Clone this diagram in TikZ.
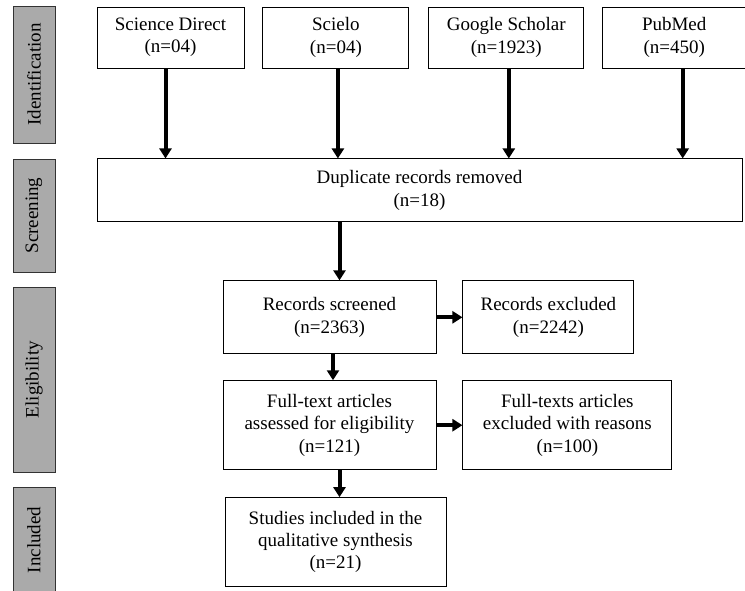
\documentclass[tikz,border=0pt]{standalone}
\usepackage{fontspec}
\setmainfont{Liberation Serif}
\usetikzlibrary{positioning,arrows.meta}
\definecolor{phasegray}{RGB}{170,170,170}

\begin{document}
\begin{tikzpicture}[
  x=1pt, y=-1pt,
  font=\fontsize{19}{22.3}\selectfont,
  block/.style={
    draw,
    line width=0.9pt,
    align=center,
    inner sep=2pt
  },
  phase/.style={
    draw=black!80,
    line width=0.9pt,
    fill=phasegray,
    rotate=90,
    minimum height=42pt,
    inner sep=0pt
  },
  arrow/.style={-{Triangle[length=10pt,width=12pt]}, line width=4pt}
]
\useasboundingbox (0,0) rectangle (745,590);
\node[phase, minimum width=137pt] (ident) at (34,74.5) {Identification};
\node[phase, minimum width=113pt] (screen) at (34,215.5) {Screening};
\node[phase, minimum width=185pt] (elig) at (34,379.5) {Eligibility};
\node[phase, minimum width=106pt] (incl) at (34,540) {Included};
\node[block, minimum width=147pt, minimum height=61pt] (sd) at (170.5,37.5) {Science Direct\\(n=04)};
\node[block, minimum width=146pt, minimum height=61pt, right=18pt of sd] (sci) {Scielo\\(n=04)};
\node[block, minimum width=155pt, minimum height=61pt, right=19pt of sci] (gs) {Google Scholar\\(n=1923)};
\node[block, minimum width=143pt, minimum height=61pt, right=18pt of gs] (pm) {PubMed\\(n=450)};
\node[block, minimum width=645pt, minimum height=63pt, below=90pt of sd.south west, anchor=north west] (dup) {Duplicate records removed\\(n=18)};
\node[block, minimum width=213pt, minimum height=73pt, below=58pt of dup.south west, anchor=north west, xshift=126pt] (rs) {Records screened\\(n=2363)};
\node[block, minimum width=171pt, minimum height=73pt, right=26pt of rs] (re) {Records excluded\\(n=2242)};
\node[block, minimum width=213pt, minimum height=89pt, below=26pt of rs] (ft) {Full-text articles\\assessed for eligibility\\(n=121)};
\node[block, minimum width=209pt, minimum height=89pt, right=26pt of ft] (fe) {Full-texts articles\\excluded with reasons\\(n=100)};
\node[block, minimum width=221pt, minimum height=89pt, below=27pt of ft.south west, anchor=north west, xshift=2pt] (st) {Studies included in the\\qualitative synthesis\\(n=21)};
\draw[arrow] ([xshift=-5pt]sd.south) -- ([xshift=-5pt]sd.south |- dup.north);
\draw[arrow] ([xshift=2pt]sci.south) -- ([xshift=2pt]sci.south |- dup.north);
\draw[arrow] ([xshift=2.5pt]gs.south) -- ([xshift=2.5pt]gs.south |- dup.north);
\draw[arrow] ([xshift=8.5pt]pm.south) -- ([xshift=8.5pt]pm.south |- dup.north);
\draw[arrow] ([xshift=10pt]rs.north |- dup.south) -- ([xshift=10pt]rs.north);
\draw[arrow] (rs) -- (re);
\draw[arrow] ([xshift=3.5pt]rs.south) -- ([xshift=3.5pt]ft.north);
\draw[arrow] (ft) -- (fe);
\draw[arrow] ([xshift=10pt]ft.south) -- ([xshift=10pt]ft.south |- st.north);
\end{tikzpicture}
\end{document}
